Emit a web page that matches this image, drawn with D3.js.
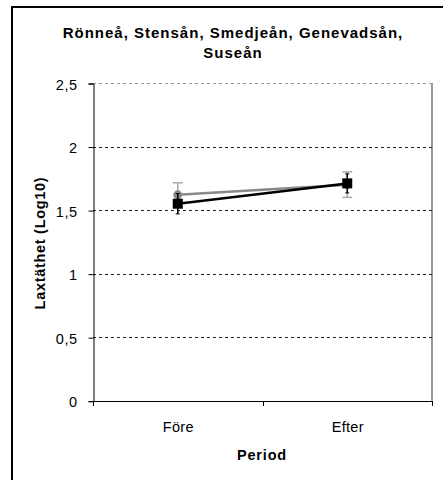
<!DOCTYPE html>
<html><head><meta charset="utf-8">
<script src="https://cdn.jsdelivr.net/npm/d3@7"></script>
<style>body{margin:0;background:#fff}svg{display:block}text{font-family:"Liberation Sans",Arial,sans-serif}</style>
</head><body>
<svg id="c" width="443" height="480"></svg>
<script>
const categories = ["Före", "Efter"];
const grayValues = [1.62, 1.70];
const grayErrors = [0.095, 0.10];
const blackValues = [1.55, 1.71];
const blackErrors = [0.08, 0.075];
const yTicks = [0, 0.5, 1, 1.5, 2, 2.5];
const yTickLabels = ["0", "0,5", "1", "1,5", "2", "2,5"];
const titleLines = ["Rönneå, Stensån, Smedjeån, Genevadsån,", "Suseån"];
const xTitle = "Period";
const yTitle = "Laxtäthet (Log10)";

const svg = d3.select("#c");
const L = 93, R = 432, T = 83, B = 400.7;
const x = d3.scaleBand().domain(categories).range([L, R]);
const y = d3.scaleLinear().domain([0, 2.5]).range([B, T]);
const FONT = '"Liberation Sans",Arial,sans-serif';

// outer border
svg.append("rect").attr("x", 12).attr("y", 7).attr("width", 450).attr("height", 500)
  .attr("fill", "none").attr("stroke", "#000").attr("stroke-width", 2);

// title
svg.append("g").selectAll("text").data(titleLines).join("text")
  .attr("x", 233).attr("y", (d, i) => 38 + i * 20)
  .attr("text-anchor", "middle").attr("font-weight", "bold").attr("font-size", 15)
  .attr("letter-spacing", 1)
  .text(d => d);

// plot area border (right side gray)
svg.append("line").attr("x1", R).attr("x2", R).attr("y1", T).attr("y2", B)
  .attr("stroke", "#999").attr("stroke-width", 2);

// gridlines
svg.append("g").selectAll("line").data(yTicks.filter(d => d > 0)).join("line")
  .attr("x1", L).attr("x2", R).attr("y1", d => Math.round(y(d)) + 0.5).attr("y2", d => Math.round(y(d)) + 0.5)
  .attr("stroke", d => d === 2.5 ? "#999" : "#222").attr("stroke-dasharray", "3,3");

// y axis
const yAxis = d3.axisLeft(y).tickValues(yTicks).tickFormat((d, i) => yTickLabels[i]).tickSize(5).tickPadding(11);
const gy = svg.append("g").attr("transform", `translate(${L + 0.5},0.5)`).call(yAxis);
gy.select(".domain").attr("stroke", "#000");
gy.selectAll("line").attr("stroke", "#000");
gy.selectAll("text").attr("font-size", 14.5).attr("fill", "#000").attr("letter-spacing", 0.5)
  .attr("dy", "0.38em").style("font-family", FONT);

// x axis
const gx = svg.append("g").attr("transform", `translate(0.5,${Math.round(B) + 0.5})`)
  .call(d3.axisBottom(x).tickSize(0).tickPadding(20));
gx.select(".domain").attr("stroke", "#000").attr("d", `M${L},0H${R}`);
gx.selectAll("text").attr("font-size", 14.5).attr("fill", "#000").attr("letter-spacing", 0.3)
  .style("font-family", FONT);
// tick marks at category boundaries
const bounds = [L, L + x.bandwidth(), R];
svg.append("g").selectAll("line").data(bounds).join("line")
  .attr("x1", d => Math.round(d) + 0.5).attr("x2", d => Math.round(d) + 0.5)
  .attr("y1", Math.round(B)).attr("y2", Math.round(B) + 5).attr("stroke", "#000");

// axis titles
svg.append("text").attr("x", 262).attr("y", 460).attr("text-anchor", "middle")
  .attr("font-weight", "bold").attr("font-size", 14.5).attr("letter-spacing", 0.8).text(xTitle);
svg.append("text").attr("transform", "translate(45,243) rotate(-90)").attr("text-anchor", "middle")
  .attr("font-weight", "bold").attr("font-size", 14.5).attr("letter-spacing", 0.7).text(yTitle);

const cx = d => x(d) + x.bandwidth() / 2;

// gray series
const gGray = svg.append("g");
categories.forEach((c, i) => {
  const v = grayValues[i], e = grayErrors[i];
  gGray.append("line").attr("x1", cx(c)).attr("x2", cx(c)).attr("y1", y(v + e)).attr("y2", y(v - e))
    .attr("stroke", "#aaa").attr("stroke-width", 1.5);
  [v + e, v - e].forEach(t => gGray.append("line").attr("x1", cx(c) - 5).attr("x2", cx(c) + 5)
    .attr("y1", y(t)).attr("y2", y(t)).attr("stroke", "#aaa").attr("stroke-width", 1.5));
});
gGray.append("path").datum(categories.map((c, i) => [cx(c), y(grayValues[i])]))
  .attr("d", d3.line()).attr("fill", "none").attr("stroke", "#888").attr("stroke-width", 2.5);
gGray.selectAll("circle").data(categories).join("circle")
  .attr("cx", d => cx(d)).attr("cy", (d, i) => y(grayValues[i])).attr("r", 4.5).attr("fill", "#888");

// black series
const gBlack = svg.append("g");
categories.forEach((c, i) => {
  const v = blackValues[i], e = blackErrors[i];
  gBlack.append("line").attr("x1", cx(c)).attr("x2", cx(c)).attr("y1", y(v + e)).attr("y2", y(v - e))
    .attr("stroke", "#000").attr("stroke-width", 1.5);
  [v + e, v - e].forEach(t => gBlack.append("line").attr("x1", cx(c) - 2).attr("x2", cx(c) + 2)
    .attr("y1", y(t)).attr("y2", y(t)).attr("stroke", "#000").attr("stroke-width", 1));
});
gBlack.append("path").datum(categories.map((c, i) => [cx(c), y(blackValues[i])]))
  .attr("d", d3.line()).attr("fill", "none").attr("stroke", "#000").attr("stroke-width", 2.5);
gBlack.selectAll("rect").data(categories).join("rect")
  .attr("x", d => cx(d) - 5).attr("y", (d, i) => y(blackValues[i]) - 5).attr("width", 10).attr("height", 10)
  .attr("fill", "#000");
</script>
</body></html>
